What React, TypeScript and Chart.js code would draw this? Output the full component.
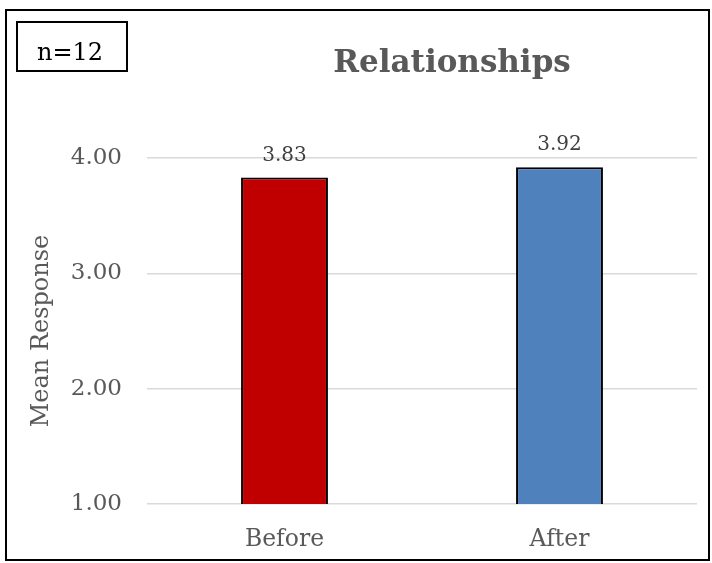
import React, { useEffect, useRef } from "react";
import { Chart, registerables } from "chart.js";

Chart.register(...registerables);

const categories = ["Before", "After"];
const meanValues = [3.83, 3.92];
const barColors = ["#C00000", "#4F81BD"];
const yTicks = [1, 2, 3, 4];
const titleText = "Relationships";
const sampleText = "n=12";
const yAxisTitle = "Mean Response";

const SERIF = "'DejaVu Serif', serif";

// Frame, sample-size box, title and value labels drawn on the canvas
const decorations = {
  id: "decorations",
  afterDatasetsDraw(chart: any) {
    const { ctx } = chart;
    const meta = chart.getDatasetMeta(0);
    ctx.save();
    ctx.fillStyle = "#404040";
    ctx.font = `20px ${SERIF}`;
    ctx.textAlign = "center";
    ctx.textBaseline = "alphabetic";
    meta.data.forEach((bar: any, i: number) => {
      ctx.fillText(meanValues[i].toFixed(2), bar.x, bar.y - 17);
    });
    ctx.restore();
  },
  afterDraw(chart: any) {
    const { ctx } = chart;
    ctx.save();
    // outer frame
    ctx.strokeStyle = "#000000";
    ctx.lineWidth = 2;
    ctx.strokeRect(6, 10, 703, 550);
    // sample size box
    ctx.lineWidth = 2;
    ctx.strokeRect(17, 22, 110, 49);
    ctx.fillStyle = "#000000";
    ctx.font = `24px ${SERIF}`;
    ctx.textAlign = "center";
    ctx.textBaseline = "alphabetic";
    ctx.fillText(sampleText, 70, 60);
    // title
    ctx.fillStyle = "#595959";
    ctx.font = `bold 31px ${SERIF}`;
    ctx.fillText(titleText, 452, 72);
    ctx.restore();
  },
};

export default function App() {
  const canvasRef = useRef<HTMLCanvasElement | null>(null);

  useEffect(() => {
    document.body.style.margin = "0";
    const canvas = canvasRef.current;
    if (!canvas) return;
    const chart = new Chart(canvas, {
      type: "bar",
      data: {
        labels: categories,
        datasets: [
          {
            data: meanValues,
            backgroundColor: barColors,
            borderColor: "#000000",
            borderWidth: 2,
            barPercentage: 0.316,
            categoryPercentage: 1,
          },
        ],
      },
      options: {
        animation: false,
        responsive: true,
        maintainAspectRatio: false,
        layout: { padding: { left: 0, right: 15, top: 158, bottom: 0 } },
        plugins: {
          legend: { display: false },
          tooltip: { enabled: false },
          title: { display: false },
        },
        scales: {
          x: {
            grid: { display: false, drawTicks: false },
            border: { display: false },
            ticks: {
              color: "#595959",
              font: { family: SERIF, size: 23.5 },
              padding: 22,
            },
            afterFit(scale: any) {
              scale.height = 59;
            },
          },
          y: {
            min: yTicks[0],
            max: yTicks[yTicks.length - 1],
            afterBuildTicks(scale: any) {
              scale.ticks = yTicks.map((v) => ({ value: v }));
            },
            grid: { color: "#d9d9d9", lineWidth: 1.5, drawTicks: false },
            border: { display: false },
            ticks: {
              color: "#595959",
              font: { family: SERIF, size: 23 },
              padding: 25,
              callback: (v: any) => Number(v).toFixed(2),
            },
            title: {
              display: true,
              text: yAxisTitle,
              color: "#595959",
              font: { family: SERIF, size: 24 },
              padding: { top: 27, bottom: 0 },
            },
            afterFit(scale: any) {
              scale.width = 147;
            },
          },
        },
      },
      plugins: [decorations],
    });
    return () => chart.destroy();
  }, []);

  return (
    <div style={{ position: "absolute", left: 0, top: 0, width: 712, height: 563, background: "#ffffff" }}>
      <canvas ref={canvasRef} />
    </div>
  );
}
